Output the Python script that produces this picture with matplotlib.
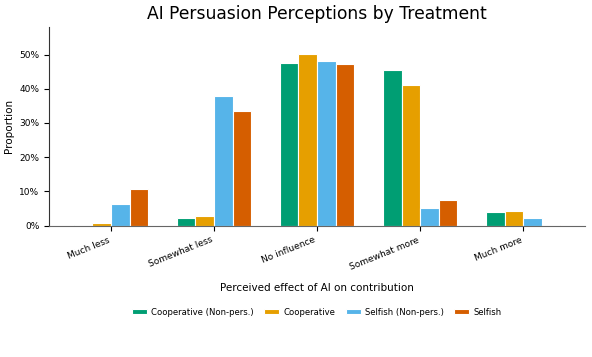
import numpy as np
import matplotlib.pyplot as plt
from matplotlib.ticker import PercentFormatter

# categories and values (percent)
categories = ["Much less", "Somewhat less", "No influence", "Somewhat more", "Much more"]
treatments = ["Cooperative (Non-pers.)", "Cooperative", "Selfish (Non-pers.)", "Selfish"]
coop_np = [0.2, 2.1, 47.4, 45.5, 3.9]
coop = [0.8, 2.8, 50.1, 41.1, 4.2]
selfish_np = [6.2, 37.8, 48.0, 5.1, 2.2]
selfish = [10.7, 33.6, 47.3, 7.4, 0.2]
colors = ["#009E73", "#E69F00", "#56B4E9", "#D55E00"]

series = [coop_np, coop, selfish_np, selfish]

fig = plt.figure(figsize=(5.92, 3.57), dpi=100)
ax = fig.add_axes([0.083, 0.368, 0.905, 0.556])

x = np.arange(len(categories))
w = 0.18
for i, (vals, name, c) in enumerate(zip(series, treatments, colors)):
    ax.bar(x + (i - 1.5) * w, vals, width=w, color=c, edgecolor="white",
           linewidth=0.8, label=name)

ax.set_xlim(-0.6, 4.6)
ax.set_ylim(0, 58)
ax.set_xticks(x)
ax.set_xticklabels(categories, rotation=22, ha="right", fontsize=6.5)
ax.yaxis.set_major_formatter(PercentFormatter(decimals=0))
ax.tick_params(axis="y", labelsize=6.5)
ax.set_ylabel("Proportion", fontsize=7.5)
ax.set_xlabel("Perceived effect of AI on contribution", fontsize=7.5, labelpad=8)
ax.spines["top"].set_visible(False)
ax.spines["right"].set_visible(False)
ax.spines["left"].set_color("#333333")
ax.spines["bottom"].set_color("#666666")
ax.set_title("AI Persuasion Perceptions by Treatment", fontsize=12.3, pad=6)

fig.legend(loc="center", bbox_to_anchor=(0.535, 0.125), ncol=4, frameon=False,
           fontsize=6.1, handlelength=1.8, handleheight=0.5, columnspacing=1.2,
           handletextpad=0.5)

fig.savefig("out.png", dpi=100)
